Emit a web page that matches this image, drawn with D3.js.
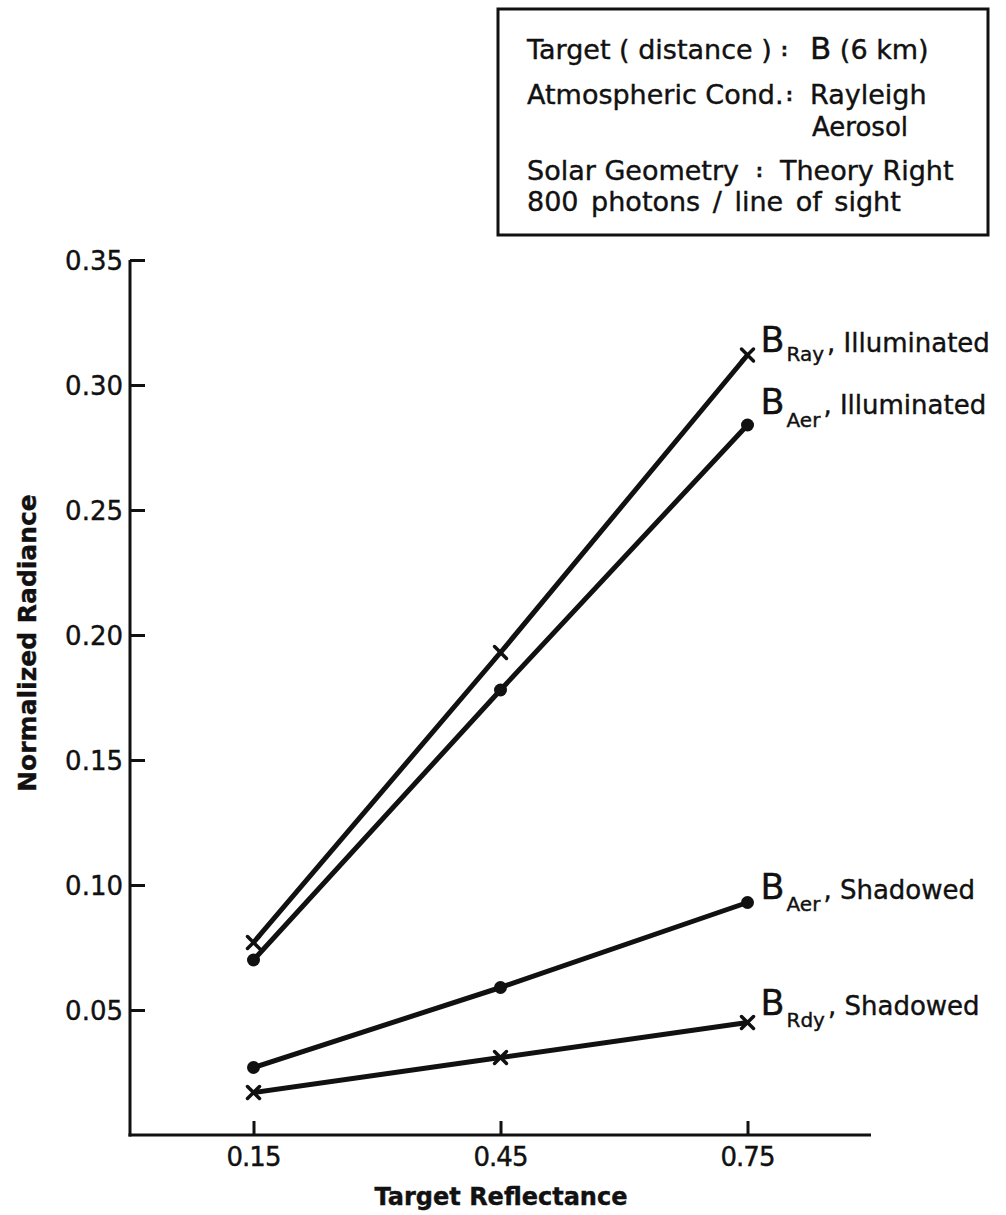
<!DOCTYPE html>
<html>
<head>
<meta charset="utf-8">
<script src="https://cdn.jsdelivr.net/npm/d3@7"></script>
<style>
  html, body { margin: 0; padding: 0; background: #fff; }
  svg { display: block; }
  text { font-family: "DejaVu Sans", sans-serif; fill: #111; stroke: #111; stroke-width: 0.4; }
</style>
</head>
<body>
<svg id="chart" width="1006" height="1215"></svg>
<script>
// Target reflectance values (x) and normalized radiance for each case
const reflectance = [0.15, 0.45, 0.75];
const rayIlluminated = [0.077, 0.193, 0.312];
const aerIlluminated = [0.070, 0.178, 0.284];
const aerShadowed = [0.027, 0.059, 0.093];
const rayShadowed = [0.017, 0.031, 0.045];

const xTickValues = [0.15, 0.45, 0.75];
const xTickLabels = ["0.15", "0.45", "0.75"];
const yTickValues = [0.05, 0.10, 0.15, 0.20, 0.25, 0.30, 0.35];
const yTickLabels = ["0.05", "0.10", "0.15", "0.20", "0.25", "0.30", "0.35"];

const seriesNames = ["Ray", "Aer", "Aer", "Rdy"];
const seriesStates = ["Illuminated", "Illuminated", "Shadowed", "Shadowed"];
const seriesMarkers = ["cross", "dot", "dot", "cross"];
const seriesValues = [rayIlluminated, aerIlluminated, aerShadowed, rayShadowed];

const infoLines = [
  ["Target ( distance )", "B", " (6 km)"],
  ["Atmospheric Cond.", "Rayleigh"],
  ["", "Aerosol"],
  ["Solar Geometry", "Theory Right"],
  ["800 photons / line of sight"]
];

const svg = d3.select("#chart");
const ink = "#111";

const x = d3.scaleLinear().domain([0, 0.9]).range([130, 871]);
const y = d3.scaleLinear().domain([0, 0.35]).range([1135, 260]);

// Axes: ticks point inward
const yAxis = d3.axisRight(y)
  .tickValues(yTickValues)
  .tickFormat(() => "")
  .tickSize(15)
  .tickSizeOuter(0);
const gy = svg.append("g").attr("transform", `translate(${x(0)},0)`).call(yAxis);
gy.select(".domain").attr("stroke", ink).attr("stroke-width", 3)
  .attr("d", `M0,${y(0.35)}V${y(0) + 1.5}`);
gy.selectAll(".tick line").attr("stroke", ink).attr("stroke-width", 3);

const xAxis = d3.axisTop(x)
  .tickValues(xTickValues)
  .tickFormat(() => "")
  .tickSize(14)
  .tickSizeOuter(0);
const gx = svg.append("g").attr("transform", `translate(0,${y(0)})`).call(xAxis);
gx.select(".domain").attr("stroke", ink).attr("stroke-width", 3)
  .attr("d", `M${x(0) - 1.5},0H${x(0.9)}`);
gx.selectAll(".tick line").attr("stroke", ink).attr("stroke-width", 3);

// Tick labels
svg.append("g").selectAll("text")
  .data(yTickValues)
  .join("text")
  .attr("x", x(0) - 7)
  .attr("y", d => y(d) + 10)
  .attr("text-anchor", "end")
  .attr("font-size", 26)
  .text((d, i) => yTickLabels[i]);

svg.append("g").selectAll("text")
  .data(xTickValues)
  .join("text")
  .attr("x", d => x(d))
  .attr("y", y(0) + 31)
  .attr("text-anchor", "middle")
  .attr("font-size", 26)
  .attr("letter-spacing", -1)
  .text((d, i) => xTickLabels[i]);

// Axis titles
svg.append("text")
  .attr("transform", `translate(36,643) rotate(-90)`)
  .attr("text-anchor", "middle")
  .attr("font-size", 25)
  .attr("font-weight", "bold")
  .text("Normalized Radiance");

svg.append("text")
  .attr("x", 501)
  .attr("y", 1205)
  .attr("text-anchor", "middle")
  .attr("font-size", 24)
  .attr("font-weight", "bold")
  .text("Target Reflectance");

// Series lines and markers
const line = d3.line().x((d, i) => x(reflectance[i])).y(d => y(d));

seriesValues.forEach((vals, s) => {
  const g = svg.append("g");
  g.append("path")
    .attr("d", line(vals))
    .attr("fill", "none")
    .attr("stroke", ink)
    .attr("stroke-width", 5)
    .attr("stroke-linejoin", "round");
  vals.forEach((v, i) => {
    const cx = x(reflectance[i]);
    const cy = y(v);
    if (seriesMarkers[s] === "dot") {
      g.append("circle").attr("cx", cx).attr("cy", cy).attr("r", 6.5).attr("fill", ink);
    } else {
      const r = 6;
      g.append("path")
        .attr("d", `M${cx - r},${cy - r}L${cx + r},${cy + r}M${cx - r},${cy + r}L${cx + r},${cy - r}`)
        .attr("stroke", ink)
        .attr("stroke-width", 3.5)
        .attr("stroke-linecap", "round");
    }
  });
});

// Series labels at the right-hand end of each line
const labelDy = [-3, -11, -4, -8];
const subDy = [9, 13, 12, 12];
seriesValues.forEach((vals, s) => {
  const lx = x(reflectance[2]) + 13;
  const ly = y(vals[2]) + labelDy[s];
  const t = svg.append("text").attr("x", lx).attr("y", ly).attr("font-size", 26);
  t.append("tspan").attr("font-size", 35).text("B");
  t.append("tspan").attr("font-size", 20).attr("dx", 2).attr("dy", subDy[s]).text(seriesNames[s]);
  t.append("tspan").attr("dy", -subDy[s]).attr("dx", 3).text(", " + seriesStates[s]);
});

// Information box
svg.append("rect")
  .attr("x", 498).attr("y", 9)
  .attr("width", 490).attr("height", 226)
  .attr("fill", "none")
  .attr("stroke", ink)
  .attr("stroke-width", 3);

const infoX = 527;
const colonX = [781, 786, null, 756, null];
const valueX = [810, 810, 812, 780, null];
const infoY = [59, 104, 136, 180, 211];
const infoSize = [27, 27, 26, 27, 27];

infoLines.forEach((parts, i) => {
  if (parts[0]) {
    svg.append("text").attr("x", infoX).attr("y", infoY[i]).attr("font-size", infoSize[i])
      .attr("word-spacing", i === 4 ? 4 : 0)
      .text(parts[0]);
  }
  if (colonX[i] !== null) {
    svg.append("text").attr("x", colonX[i]).attr("y", infoY[i] - 3).attr("font-size", 17)
      .attr("font-weight", "bold").text(":");
  }
  if (parts.length > 1) {
    const t = svg.append("text").attr("x", valueX[i]).attr("y", infoY[i]).attr("font-size", infoSize[i]);
    if (parts[1] === "B") {
      t.append("tspan").attr("font-size", 31).text("B");
      t.append("tspan").text(parts[2]);
    } else {
      t.text(parts[1]);
    }
  }
});
</script>
</body>
</html>
